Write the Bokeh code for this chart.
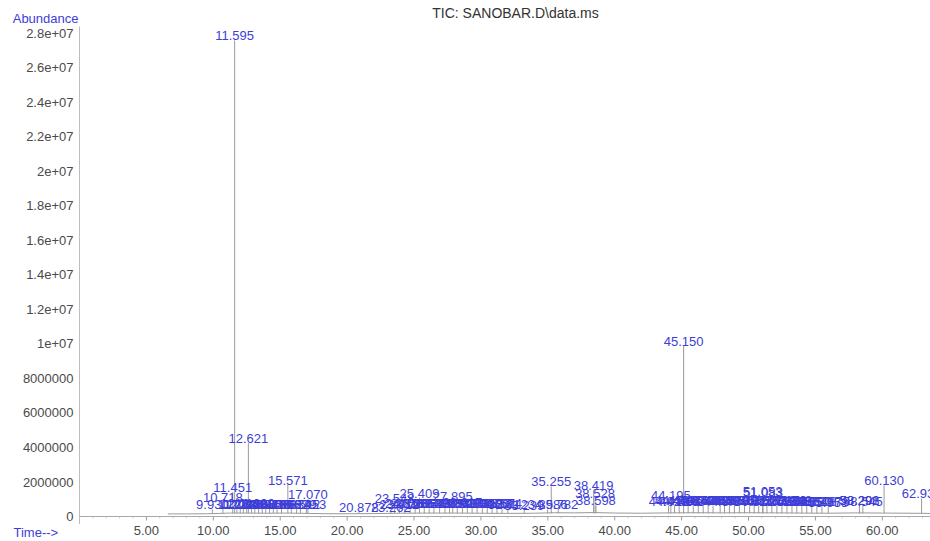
from bokeh.plotting import figure
from bokeh.layouts import column, row
from bokeh.models import (ColumnDataSource, Label, Span, FixedTicker, CustomJSTickFormatter,
                          PrintfTickFormatter, Range1d)
from bokeh.embed import file_html
from bokeh.resources import INLINE
from bokeh.core.properties import value

# ---------------- data ----------------
title_text = "TIC: SANOBAR.D\\data.ms"
y_axis_title = "Abundance"
x_axis_title = "Time-->"

x_ticks = [5, 10, 15, 20, 25, 30, 35, 40, 45, 50, 55, 60]
x_minor_ticks = [m for m in range(1, 64) if m % 5 != 0]
y_ticks = [0, 2e6, 4e6, 6e6, 8e6, 1e7, 1.2e7, 1.4e7, 1.6e7, 1.8e7, 2e7, 2.2e7, 2.4e7, 2.6e7, 2.8e7]

# retention time (min) of labelled peaks
peak_rt = [
    9.930, 10.718, 11.451, 11.595, 11.762, 12.013, 12.245, 12.498, 12.621, 12.857,
    13.102, 13.384, 13.655, 13.921, 14.207, 14.486, 14.763, 15.098, 15.571, 15.834,
    16.229, 16.512, 16.953, 17.070,
    20.878, 23.262, 23.548, 23.912, 24.318, 24.703, 25.086, 25.409, 25.764, 26.133,
    26.489, 26.912, 27.315, 27.654, 27.895, 28.231, 28.617, 28.983, 29.342, 29.715,
    30.108, 30.476, 30.833, 31.201, 31.574, 32.012, 33.239, 34.986, 35.255, 35.782,
    38.419, 38.528, 38.598,
    44.023, 44.195, 44.472, 44.816, 45.150, 45.486, 45.871, 46.244, 46.612, 46.983,
    47.351, 47.880, 48.205, 48.573, 48.944, 49.317, 49.702, 50.086, 50.421, 50.758,
    51.053, 51.083, 51.377, 51.742, 52.118, 52.497, 52.873, 53.248, 53.612, 53.985,
    54.352, 54.730, 55.108, 55.487, 55.958, 58.291, 58.298, 58.545, 60.130, 62.935,
]
# apex abundance of each peak
peak_abundance = [
    4.2e5, 8.5e5, 1.4e6, 2.76e7, 4.5e5, 4.8e5, 4.4e5, 4.6e5, 4.25e6, 4.3e5,
    4.7e5, 4.4e5, 4.5e5, 4.3e5, 4.6e5, 4.4e5, 4.2e5, 4.5e5, 1.85e6, 4.4e5,
    4.3e5, 4.6e5, 4.6e5, 9.9e5,
    2.6e5, 2.7e5, 8.0e5, 4.6e5, 5.0e5, 4.8e5, 5.2e5, 1.1e6, 5.0e5, 4.7e5,
    5.1e5, 4.9e5, 5.2e5, 4.8e5, 9.2e5, 5.0e5, 5.3e5, 4.9e5, 5.1e5, 5.2e5,
    4.8e5, 5.0e5, 5.1e5, 4.9e5, 4.7e5, 4.6e5, 4.0e5, 4.1e5, 1.75e6, 4.4e5,
    1.55e6, 1.1e6, 6.4e5,
    6.3e5, 9.3e5, 6.5e5, 6.2e5, 9.9e6, 6.4e5, 6.6e5, 6.3e5, 6.5e5, 6.7e5,
    6.4e5, 6.8e5, 6.5e5, 6.6e5, 6.3e5, 6.5e5, 6.4e5, 6.6e5, 6.3e5, 6.5e5,
    1.2e6, 1.15e6, 6.4e5, 6.2e5, 6.6e5, 6.3e5, 6.5e5, 6.4e5, 6.2e5, 6.3e5,
    6.1e5, 6.0e5, 5.8e5, 6.0e5, 5.5e5, 6.6e5, 6.5e5, 6.3e5, 1.8e6, 1.05e6,
]
peak_label = ["%.3f" % t for t in peak_rt]
peak_floor = 1.8e5   # level of the trace at the foot of the peaks

# baseline of the trace
base_rt = [6.6, 8.0, 9.5, 10.5, 11.3, 12.5, 14.0, 15.5, 17.0, 18.5, 20.0, 22.0,
           24.0, 26.0, 28.0, 30.0, 32.0, 34.0, 35.5, 37.0, 38.5, 40.0, 42.0, 44.0,
           46.0, 48.0, 50.0, 52.0, 54.0, 56.0, 58.0, 60.0, 62.0, 63.6]
base_abundance = [1.5e5, 1.5e5, 1.6e5, 1.8e5, 2.0e5, 2.0e5, 1.9e5, 2.0e5, 1.8e5, 1.6e5,
                  1.6e5, 1.7e5, 1.9e5, 2.0e5, 2.0e5, 1.9e5, 1.8e5, 1.9e5, 2.2e5, 2.1e5,
                  2.3e5, 2.0e5, 1.9e5, 2.1e5, 2.2e5, 2.1e5, 2.2e5, 2.1e5, 2.0e5, 1.9e5,
                  2.1e5, 2.0e5, 1.9e5, 1.8e5]

# ---------------- styling ----------------
FONT = "Liberation Sans"
BLUE = "#3d3dd8"
TICK_COLOR = "#4a4a4a"
PX = 57971.0          # abundance per pixel in the main frame


def bare(fig):
    fig.grid.visible = False
    fig.outline_line_color = None
    fig.background_fill_color = "white"
    fig.border_fill_color = "white"
    return fig


def no_align(fig):
    try:
        fig.frame_align = False
    except Exception:
        pass
    return fig


def hide_axis_marks(ax):
    ax.axis_line_color = None
    ax.major_tick_line_color = None
    ax.minor_tick_line_color = None
    ax.major_tick_out = 0
    ax.major_tick_in = 0
    ax.minor_tick_out = 0
    ax.minor_tick_in = 0


# ---------------- header (title + "Abundance") ----------------
header = bare(figure(width=930, height=26, x_range=Range1d(0, 851), y_range=Range1d(0, 26),
                     output_backend="svg", toolbar_location=None, x_axis_location=None,
                     min_border_left=79, min_border_right=0, min_border_top=0, min_border_bottom=0))
header.yaxis.ticker = FixedTicker(ticks=[8])
header.yaxis.major_label_overrides = {8: y_axis_title}
hide_axis_marks(header.yaxis[0])
header.yaxis.major_label_standoff = 1
header.yaxis.major_label_text_font = FONT
header.yaxis.major_label_text_font_size = "13px"
header.yaxis.major_label_text_color = BLUE
header.add_layout(Label(x=436, y=14, text=title_text, text_align="center", text_baseline="middle",
                        text_font=FONT, text_font_size="14px", text_color="#333333"))

# ---------------- main chromatogram ----------------
x_rng = Range1d(0, 63.6)
p = bare(figure(width=930, height=498, x_range=x_rng, y_range=Range1d(-8 * PX, 490 * PX),
                output_backend="svg", toolbar_location=None, x_axis_location=None,
                min_border_left=79, min_border_right=0, min_border_top=0, min_border_bottom=0))

p.yaxis.ticker = FixedTicker(ticks=y_ticks)
p.yaxis.formatter = CustomJSTickFormatter(code="""
if (tick >= 1e7) { return (Math.round(tick / 1e6) / 10).toString() + "e+07"; }
return tick.toFixed(0);
""")
p.yaxis.axis_line_color = "#bdbdbd"
p.yaxis.major_tick_out = 0
p.yaxis.major_tick_in = 0
p.yaxis.minor_tick_out = 0
p.yaxis.minor_tick_in = 0
p.yaxis.major_label_standoff = 6
p.yaxis.major_label_text_font = FONT
p.yaxis.major_label_text_font_size = "13px"
p.yaxis.major_label_text_color = TICK_COLOR

# time axis line and its tick marks (inside the frame, below zero)
p.add_layout(Span(location=0, dimension="width", line_color="#a8a8a8", line_width=1))
p.segment(x0=x_ticks, y0=[0] * len(x_ticks), x1=x_ticks, y1=[-4 * PX] * len(x_ticks),
          line_color="#9c9c9c", line_width=1)
p.segment(x0=x_minor_ticks, y0=[0] * len(x_minor_ticks), x1=x_minor_ticks,
          y1=[-2 * PX] * len(x_minor_ticks), line_color="#d2d2d2", line_width=1)

# baseline trace
p.line(base_rt, base_abundance, line_color="#9a9a9a", line_width=1)

# peaks
src = ColumnDataSource(dict(rt=peak_rt, h=peak_abundance, foot=[peak_floor] * len(peak_rt), lab=peak_label))
p.segment(x0="rt", y0="foot", x1="rt", y1="h", source=src, line_color="#9a9a9a", line_width=1)
p.text(x="rt", y="h", text="lab", source=src, text_align="center", text_baseline="bottom",
       text_font=value(FONT), text_font_size="13px", text_color=BLUE)

# ---------------- footer: "Time-->" + time tick labels ----------------
foot_left = no_align(bare(figure(width=79, height=17, x_range=Range1d(0, 79), y_range=Range1d(0, 17),
                                 output_backend="svg", toolbar_location=None,
                                 x_axis_location=None, y_axis_location=None,
                                 min_border_left=0, min_border_right=0, min_border_top=0,
                                 min_border_bottom=0)))
foot_left.add_layout(Label(x=13, y=9, text=x_axis_title, text_align="left", text_baseline="middle",
                           text_font=FONT, text_font_size="13px", text_color=BLUE))

foot_right = no_align(bare(figure(frame_width=851, frame_height=1, x_range=x_rng, y_range=Range1d(0, 1),
                                  output_backend="svg", toolbar_location=None, y_axis_location=None,
                                  min_border_left=0, min_border_right=0, min_border_top=0,
                                  min_border_bottom=0)))
foot_right.xaxis.ticker = FixedTicker(ticks=x_ticks)
foot_right.xaxis.formatter = PrintfTickFormatter(format="%.2f")
hide_axis_marks(foot_right.xaxis[0])
foot_right.xaxis.major_label_standoff = 0
foot_right.xaxis.axis_label_standoff = 0
foot_right.xaxis.major_label_text_font = FONT
foot_right.xaxis.major_label_text_font_size = "13px"
foot_right.xaxis.major_label_text_color = TICK_COLOR

layout = column(header, p, row(foot_left, foot_right, spacing=0), spacing=0)

open("out.html", "w").write(file_html(layout, INLINE))
